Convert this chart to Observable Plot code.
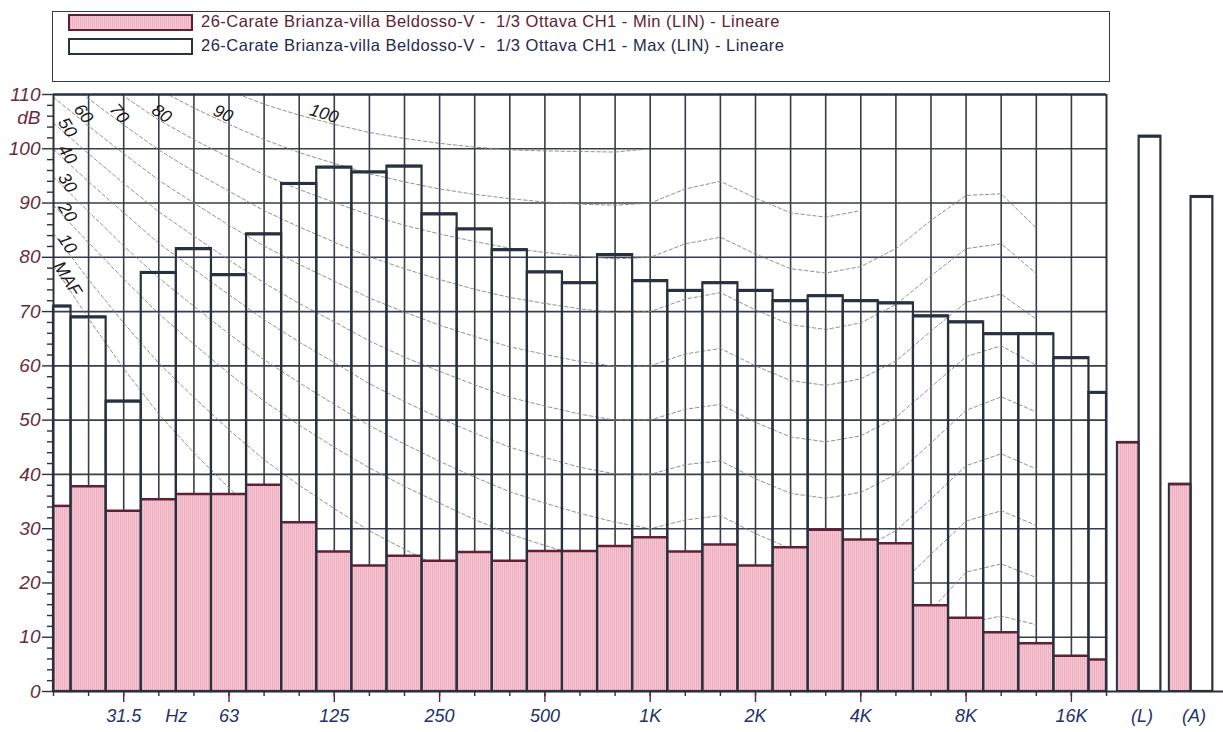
<!DOCTYPE html>
<html><head><meta charset="utf-8">
<script src="https://cdn.jsdelivr.net/npm/d3@7"></script>
<script src="https://cdn.jsdelivr.net/npm/@observablehq/plot@0.6"></script>
<style>
html,body{margin:0;padding:0;background:#fff;width:1223px;height:732px;overflow:hidden;font-family:"Liberation Sans",Arial,sans-serif;}
#legend{position:absolute;left:52px;top:11px;width:1058px;height:71px;box-sizing:border-box;border:1.5px solid #3a3a44;}
.sw{position:absolute;left:15px;width:125px;height:17px;box-sizing:border-box;border:2px solid;}
.lt{position:absolute;left:148px;white-space:pre;font-size:16.5px;letter-spacing:0.5px;line-height:17px;}
#chart{position:absolute;left:0;top:86px;}
</style></head><body>
<svg width="0" height="0" style="position:absolute"><defs>
<pattern id="pinkStripes" patternUnits="userSpaceOnUse" width="2" height="4"><rect width="2" height="4" fill="#f7c6d3"/><rect width="1" height="4" fill="#eeafc1"/></pattern>
</defs></svg>
<div id="legend"></div>
<div id="chart"></div>
<script>
// ---------------- DATA ----------------
const bands = ["20","25","31.5","40","50","63","80","100","125","160","200","250","315","400","500","630","800","1K","1.25K","1.6K","2K","2.5K","3.15K","4K","5K","6.3K","8K","10K","12.5K","16K","20K"];
const minLevels = [34.2,37.8,33.3,35.4,36.4,36.4,38.1,31.2,25.8,23.2,25.0,24.1,25.7,24.1,25.9,25.9,26.8,28.4,25.8,27.1,23.2,26.6,29.8,28.0,27.3,15.9,13.6,10.9,8.9,6.6,5.9];
const maxLevels = [71.0,69.0,53.5,77.2,81.6,76.8,84.3,93.6,96.6,95.7,96.8,88.0,85.2,81.4,77.3,75.3,80.5,75.7,73.9,75.3,73.9,72.0,72.9,72.0,71.6,69.2,68.1,65.9,65.9,61.5,55.1];
const totalNames = ["(L)","(A)"];
const totalMin = [45.9,38.2];
const totalMax = [102.3,91.2];
const octaveLabels = ["31.5","63","125","250","500","1K","2K","4K","8K","16K"];
const yTickLabels = [0,10,20,30,40,50,60,70,80,90,100,110];
const seriesNames = [
  "26-Carate Brianza-villa Beldosso-V -  1/3 Ottava CH1 - Min (LIN) - Lineare",
  "26-Carate Brianza-villa Beldosso-V -  1/3 Ottava CH1 - Max (LIN) - Lineare"
];
// equal-loudness contours (dB, 20 Hz ... upward)
const phonNames = ["MAF","10","20","30","40","50","60","70","80","90","100"];
const contourMAF = [78.5,68.7,59.5,51.1,44.0,37.5,31.5,26.5,22.1,17.9,14.4,11.4,8.6,6.2,4.4,3.0,2.2,2.4,3.5,1.7,-1.3,-4.2,-6.0,-5.4,-1.5,6.0,12.6,13.9,12.3];
const contour10  = [84.4,75.9,67.9,60.5,54.2,48.2,42.7,38.0,33.7,29.6,26.2,22.9,19.8,17.2,15.3,13.5,12.0,10.0,11.6,11.6,8.2,5.2,3.8,4.6,8.3,15.0,22.0,23.5,21.0];
const contour20  = [89.6,82.7,76.0,69.6,64.0,58.6,53.5,49.1,45.0,41.2,37.8,34.7,31.7,29.0,26.9,25.0,23.1,20.0,21.5,22.2,18.9,16.0,14.8,15.8,19.1,25.3,31.4,33.3,30.6];
const contour30  = [94.8,88.4,82.1,76.2,71.0,65.9,61.1,56.9,52.9,49.0,45.6,42.4,39.5,36.8,34.7,32.8,31.2,30.0,31.6,32.4,29.1,26.3,25.2,26.2,29.6,35.5,41.6,43.8,41.0];
const contour40  = [99.9,93.9,88.2,82.6,77.8,73.1,68.5,64.4,60.6,56.7,53.4,50.4,47.6,45.0,43.1,41.3,40.1,40.0,41.8,42.5,39.2,36.5,35.6,36.7,40.0,45.8,51.8,54.3,51.5];
const contour50  = [104.7,99.1,93.6,88.4,83.9,79.5,75.3,71.5,68.1,64.6,61.6,59.0,56.5,54.2,52.6,51.1,50.0,50.0,52.0,52.9,49.6,46.9,46.0,47.1,50.5,56.1,61.7,63.7,60.1];
const contour60  = [109.5,104.2,99.1,94.2,90.0,85.9,82.1,78.7,75.6,72.5,69.9,67.5,65.4,63.5,62.1,60.8,59.9,60.0,62.2,63.2,60.0,57.3,56.4,57.6,60.9,66.4,71.7,73.2,68.6];
const contour70  = [114.3,109.2,104.4,99.8,95.8,92.2,88.6,85.6,82.8,80.1,77.9,75.9,74.1,72.6,71.5,70.5,69.8,70.0,72.3,73.5,70.3,67.6,66.7,67.9,71.3,76.6,81.6,82.5,77.0];
const contour80  = [119.0,114.2,109.7,105.3,101.7,98.4,95.2,92.5,90.1,87.8,85.9,84.3,82.9,81.7,80.9,80.2,79.7,80.0,82.5,83.7,80.6,77.9,77.1,78.3,81.6,86.8,91.4,91.7,85.4];
const contour90  = [123.7,119.2,114.9,110.9,107.5,104.5,101.7,99.3,97.3,95.4,93.9,92.6,91.6,90.8,90.2,89.8,89.6,90.0,92.6,94.0,90.9,88.2,87.4,88.6];
const contour100 = [128.4,124.2,120.1,116.4,113.4,110.7,108.2,106.2,104.5,103.0,101.9,101.0,100.3,99.8,99.6,99.5,99.4,100.0];
const contours = [contourMAF,contour10,contour20,contour30,contour40,contour50,contour60,contour70,contour80,contour90,contour100];

// ---------------- LAYOUT / STYLE ----------------
const W = 1223, H = 646, mL = 53, mR = 117, mT = 8, mB = 41;
const xMax = bands.length - 1;
const pxPerBand = (W - mL - mR) / xMax;
const pxPerDb = (H - mT - mB) / 110;
const ink = "#2a303e", gridInk = "#383d4a", maroon = "#5e2234", navy = "#22306e", yLabInk = "#6a2c3c";
const pink = "url(#pinkStripes)";
const totalsStart = 30.31, totalsBarW = 0.62, totalsStep = 1.48;
const leftLabelPos = 0.4, topLabelLevel = 105;
const topLabelRotate = {"60":52,"70":50,"80":34,"90":24,"100":17};

// ---------------- LEGEND ----------------
const legendStyles = [{border:maroon, text:maroon},{border:"#2a3345", text:"#1f2a52"}];
const leg = d3.select("#legend");
seriesNames.forEach((name, k) => {
  leg.append("div").attr("class","sw").style("top", (2 + 24*k) + "px")
    .style("background", k === 0 ? "repeating-linear-gradient(90deg,#eeafc1 0 1px,#f7c6d3 1px 2px)" : "#ffffff")
    .style("border-color", legendStyles[k].border);
  leg.append("div").attr("class","lt").style("top", (1 + 24*k) + "px").style("color", legendStyles[k].text).text(name);
});

// ---------------- DERIVED ROWS ----------------
const bandRows = bands.map((b, i) => ({band:b, i, x1:Math.max(0, i-0.5), x2:Math.min(xMax, i+0.5), min:minLevels[i], max:maxLevels[i]}));
const totalRows = totalNames.map((n, k) => {
  const p1 = totalsStart + k*totalsStep;
  return {name:n, p1, p2:p1+totalsBarW, m1:p1+totalsBarW, m2:p1+2*totalsBarW, center:p1+totalsBarW, min:totalMin[k], max:totalMax[k]};
});
const contourRows = [];
contours.forEach((arr, k) => arr.forEach((v, i) => contourRows.push({phon:phonNames[k], i, db:v})));
function valueAt(arr, t){ const i = Math.floor(t), f = t - i; return arr[i]*(1-f) + arr[i+1]*f; }
function crossing(arr, level){ for (let i = 0; i < arr.length-1; i++) if (arr[i] >= level && arr[i+1] < level) return i + (arr[i]-level)/(arr[i]-arr[i+1]); return 0; }
const labelRows = contours.map((arr, k) => {
  const name = phonNames[k];
  if (arr[0] < topLabelLevel) return {name, x:leftLabelPos, y:valueAt(arr, leftLabelPos), r:58};
  const t = crossing(arr, topLabelLevel);
  return {name, x:t, y:topLabelLevel, r:topLabelRotate[name]};
});
const xLabelRows = octaveLabels.map(l => ({label:l, pos:bands.indexOf(l)}));
xLabelRows.push({label:"Hz", pos:(bands.indexOf("40")+bands.indexOf("50"))/2});
totalRows.forEach(t => xLabelRows.push({label:t.name, pos:t.center + 0.08}));
const yMinor = d3.range(0, 111, 2).filter(v => v % 10 !== 0);
const bandIdx = bands.map((b, i) => i);
const majorIdx = octaveLabels.map(l => bands.indexOf(l));

const chart = Plot.plot({
  width: W, height: H, marginLeft: mL, marginRight: mR, marginTop: mT, marginBottom: mB,
  x: {type: "linear", domain: [0, xMax], axis: null},
  y: {domain: [0, 110], axis: null},
  style: {background: "transparent", overflow: "visible", fontFamily: "'Liberation Sans', Arial, sans-serif"},
  marks: [
    // grid
    Plot.ruleY(yTickLabels.filter(v => v > 0 && v < 110), {x1: 0, x2: xMax, stroke: gridInk, strokeWidth: 1.6}),
    Plot.ruleX(bandIdx.filter(i => i > 0 && i < xMax), {y1: 0, y2: 110, stroke: gridInk, strokeWidth: 1.6}),
    // equal loudness contours
    Plot.line(contourRows, {x: "i", y: "db", z: "phon", stroke: "#858585", strokeWidth: 0.9, strokeDasharray: "3.5,2.5", clip: true}),
    Plot.text(labelRows, {x: "x", y: "y", text: "name", rotate: "r", dy: -8, fontSize: 17.5, fontStyle: "italic", fill: "#1a1a1a"}),
    // min bars
    Plot.rectY(bandRows, {x1: "x1", x2: "x2", y1: 0, y2: "min", fill: pink}),
    Plot.ruleY(bandRows, {x1: "x1", x2: "x2", y: "min", stroke: maroon, strokeWidth: 2.5}),
    // max bars (outline)
    Plot.rectY(bandRows, {x1: "x1", x2: "x2", y1: 0, y2: "max", fill: "none", stroke: ink, strokeWidth: 2.2}),
    Plot.ruleY(bandRows, {x1: "x1", x2: "x2", y: "max", stroke: ink, strokeWidth: 3}),
    // totals
    Plot.rectY(totalRows, {x1: "p1", x2: "p2", y1: 0, y2: "min", fill: pink, stroke: ink, strokeWidth: 2}),
    Plot.ruleY(totalRows, {x1: "p1", x2: "p2", y: "min", stroke: maroon, strokeWidth: 2.5}),
    Plot.rectY(totalRows, {x1: "m1", x2: "m2", y1: 0, y2: "max", fill: "none", stroke: ink, strokeWidth: 2.2}),
    Plot.ruleY(totalRows, {x1: "m1", x2: "m2", y: "max", stroke: ink, strokeWidth: 3}),
    // frame
    Plot.ruleX([0, xMax], {y1: 0, y2: 110, stroke: ink, strokeWidth: 2}),
    Plot.ruleY([110], {x1: 0, x2: xMax, stroke: ink, strokeWidth: 2.5}),
    Plot.ruleY([0], {x1: 0, x2: (W - mL) / pxPerBand, stroke: ink, strokeWidth: 1.8}),
    // y ticks
    Plot.ruleY(yMinor, {x1: -6 / pxPerBand, x2: 0, stroke: ink, strokeWidth: 1.4}),
    Plot.ruleY(yTickLabels, {x1: -11 / pxPerBand, x2: 0, stroke: ink, strokeWidth: 1.4}),
    Plot.text(yTickLabels, {x: 0, y: d => d, text: d => String(d), dx: -13, textAnchor: "end", fontSize: 19, fontStyle: "italic", fill: yLabInk}),
    Plot.text(["dB"], {frameAnchor: "top-left", dx: -13, dy: 23, textAnchor: "end", lineAnchor: "middle", fontSize: 19, fontStyle: "italic", fill: yLabInk}),
    // x ticks
    Plot.ruleX(bandIdx, {y1: -5 / pxPerDb, y2: 0, stroke: ink, strokeWidth: 1.4}),
    Plot.ruleX(majorIdx, {y1: -11 / pxPerDb, y2: 0, stroke: maroon, strokeWidth: 1.4}),
    Plot.text(xLabelRows, {x: "pos", y: 0, text: "label", dy: 25, fontSize: 18, fontStyle: "italic", fill: navy})
  ]
});
document.getElementById("chart").appendChild(chart);
</script>
</body></html>
